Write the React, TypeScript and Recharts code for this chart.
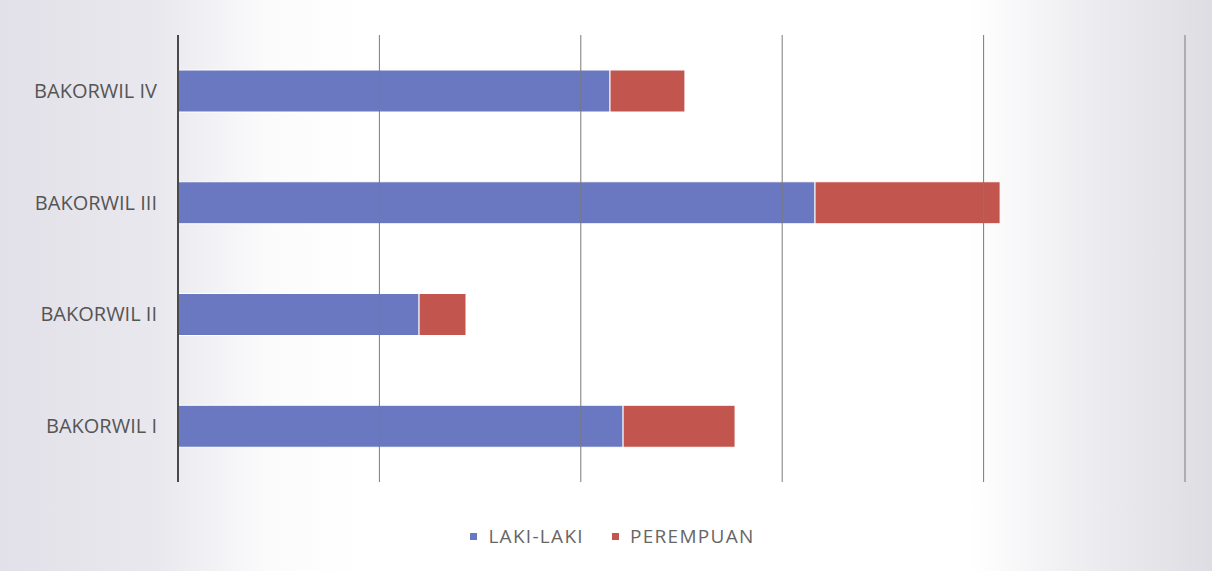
import { BarChart, Bar, XAxis, YAxis, ReferenceLine, Legend } from "recharts";

// regions, bottom to top as in the source table
const regions = ["BAKORWIL I", "BAKORWIL II", "BAKORWIL III", "BAKORWIL IV"];
const lakiLaki = [2210, 1197, 3163, 2145];
const perempuan = [556, 233, 919, 372];
const xTicks = [0, 1000, 2000, 3000, 4000, 5000];

const data = regions.map((name, i) => ({
  name,
  "LAKI-LAKI": lakiLaki[i],
  PEREMPUAN: perempuan[i],
}));

const LegendBox = ({ payload }: any) => (
  <div
    style={{
      display: "flex",
      justifyContent: "center",
      gap: 28,
      paddingLeft: 40,
      color: "#666",
      fontSize: 19,
      letterSpacing: 1.3,
    }}
  >
    {(payload || []).map((p: any) => (
      <span key={p.value} style={{ display: "flex", alignItems: "center" }}>
        <span
          style={{
            width: 7,
            height: 7,
            background: p.color,
            marginRight: 11,
            display: "inline-block",
          }}
        />
        {p.value}
      </span>
    ))}
  </div>
);

const App = () => {
  return (
    <div
      style={{
        position: "absolute",
        left: 0,
        top: 0,
        width: 1212,
        height: 571,
        background:
          "linear-gradient(90deg, #e2e1e9 0%, #e9e8ee 13%, #fbfbfc 22%, #ffffff 30%, #ffffff 80%, #f0f0f3 88%, #dedde3 100%)",
        fontFamily: "'Open Sans', sans-serif",
      }}
    >
      <BarChart
        width={1212}
        height={571}
        data={data}
        layout="vertical"
        barSize={42}
        margin={{ top: 35, right: 27, left: 0, bottom: 63 }}
      >
        <XAxis
          type="number"
          domain={[0, 5000]}
          ticks={xTicks}
          tick={false}
          tickLine={false}
          axisLine={false}
          height={0}
        />
        <YAxis
          type="category"
          dataKey="name"
          reversed
          width={178}
          tickLine={false}
          axisLine={{ stroke: "#4a4a4a", strokeWidth: 2 }}
          tickMargin={15}
          tick={{ fill: "#555", fontSize: 20 }}
        />
        {xTicks.slice(1).map((t) => (
          <ReferenceLine key={t} x={t} stroke="#7a7a7a" />
        ))}
        <Legend
          verticalAlign="bottom"
          wrapperStyle={{ bottom: 22 }}
          content={<LegendBox />}
        />
        <Bar
          dataKey="LAKI-LAKI"
          stackId="a"
          fill="#6a78c1"
          stroke="#ffffff"
          strokeWidth={1}
          isAnimationActive={false}
        />
        <Bar
          dataKey="PEREMPUAN"
          stackId="a"
          fill="#c2564f"
          stroke="#ffffff"
          strokeWidth={1}
          isAnimationActive={false}
        />
      </BarChart>
    </div>
  );
};

export default App;
